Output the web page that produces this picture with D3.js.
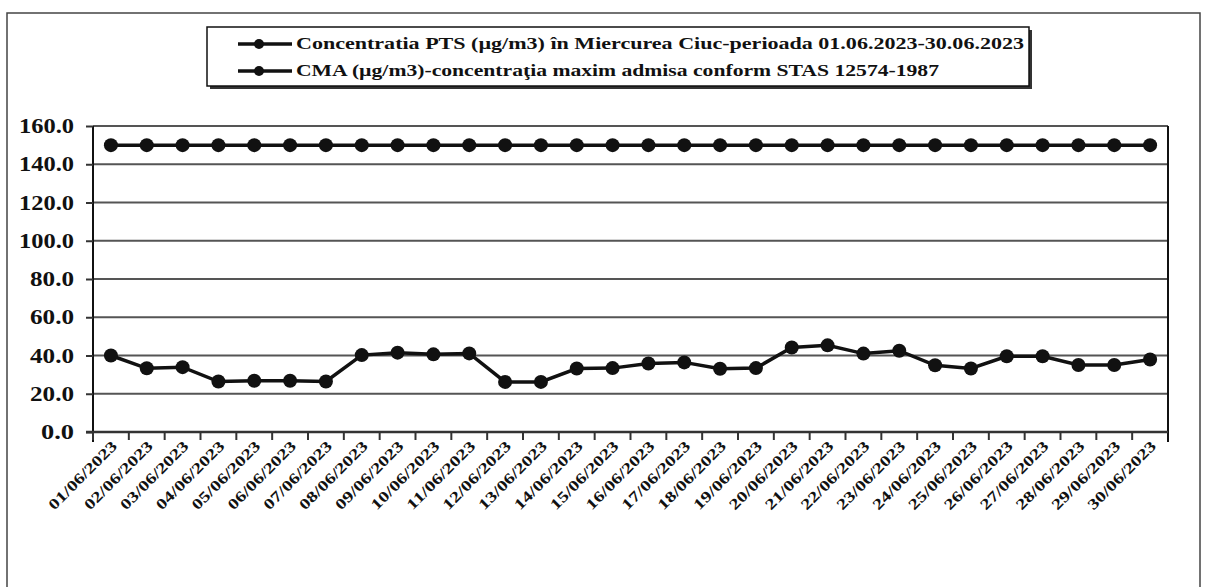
<!DOCTYPE html>
<html>
<head>
<meta charset="utf-8">
<script src="https://cdn.jsdelivr.net/npm/d3@7"></script>
<style>
  body { margin: 0; background: #fff; }
  svg text { font-family: "Liberation Serif", "DejaVu Serif", serif; font-weight: bold; fill: #111; }
</style>
</head>
<body>
<svg id="chart" width="1205" height="587"></svg>
<script>
// data
var days = ["01/06/2023","02/06/2023","03/06/2023","04/06/2023","05/06/2023","06/06/2023",
  "07/06/2023","08/06/2023","09/06/2023","10/06/2023","11/06/2023","12/06/2023","13/06/2023",
  "14/06/2023","15/06/2023","16/06/2023","17/06/2023","18/06/2023","19/06/2023","20/06/2023",
  "21/06/2023","22/06/2023","23/06/2023","24/06/2023","25/06/2023","26/06/2023","27/06/2023",
  "28/06/2023","29/06/2023","30/06/2023"];
var pts = [40.0, 33.3, 33.9, 26.4, 26.8, 26.8, 26.4, 40.2, 41.5, 40.6, 41.1, 26.2, 26.2,
  33.2, 33.4, 35.8, 36.4, 33.1, 33.4, 44.2, 45.3, 41.0, 42.5, 34.9, 33.2, 39.6, 39.6,
  35.0, 35.0, 37.9];
var cma = [150,150,150,150,150,150,150,150,150,150,150,150,150,150,150,150,150,150,150,150,
  150,150,150,150,150,150,150,150,150,150];
var yTicks = [0, 20, 40, 60, 80, 100, 120, 140, 160];
var legendLabels = [
  "Concentratia PTS (µg/m3) în Miercurea Ciuc-perioada 01.06.2023-30.06.2023",
  "CMA (µg/m3)-concentraţia maxim admisa conform STAS 12574-1987"
];

(function () {
var svg = d3.select("#chart");
var left = 93, right = 1168, plotTop = 126, bottom = 432;

// outer frame
svg.append("rect")
    .attr("x", 7).attr("y", 13).attr("width", 1193).attr("height", 600)
    .attr("fill", "none").attr("stroke", "#444").attr("stroke-width", 1.5);

var x = d3.scaleBand().domain(days).range([left, right]);
var y = d3.scaleLinear().domain([0, 160]).range([bottom, plotTop]);

// grid lines
svg.append("g").selectAll("line")
    .data(yTicks.filter(function(d) { return d > 0; }))
    .enter().append("line")
      .attr("x1", left).attr("x2", right)
      .attr("y1", function(d) { return y(d); })
      .attr("y2", function(d) { return y(d); })
      .attr("stroke", "#555").attr("stroke-width", 2);

// right border of plot
svg.append("line")
    .attr("x1", right).attr("x2", right).attr("y1", plotTop).attr("y2", bottom + 10)
    .attr("stroke", "#111").attr("stroke-width", 2);

// y axis
var fmt = d3.format(".1f");
var yAxis = svg.append("g")
    .attr("transform", "translate(" + left + ",0)")
    .call(d3.axisLeft(y).tickValues(yTicks).tickSize(7).tickPadding(12).tickFormat(fmt));
yAxis.select(".domain").attr("stroke", "#111").attr("stroke-width", 2)
    .attr("d", "M0," + plotTop + "V" + (bottom + 10));
yAxis.selectAll(".tick line").attr("stroke", "#333").attr("stroke-width", 2);
yAxis.selectAll("text")
    .style("font-size", "21px").attr("fill", "#111")
    .attr("textLength", function(d) { return fmt(d).length * 11; })
    .attr("lengthAdjust", "spacingAndGlyphs");

// x axis: ticks sit on category borders
var xAxis = svg.append("g").attr("transform", "translate(0," + bottom + ")");
xAxis.append("line")
    .attr("x1", left - 7).attr("x2", right).attr("y1", 0).attr("y2", 0)
    .attr("stroke", "#333").attr("stroke-width", 2.5);
xAxis.selectAll(".tk")
    .data(days)
    .enter().append("line")
      .attr("class", "tk")
      .attr("x1", function(d) { return x(d); })
      .attr("x2", function(d) { return x(d); })
      .attr("y1", 0).attr("y2", 8)
      .attr("stroke", "#333").attr("stroke-width", 2);
xAxis.selectAll(".lbl")
    .data(days)
    .enter().append("text")
      .attr("class", "lbl")
      .attr("text-anchor", "end")
      .attr("transform", function(d) {
        return "translate(" + (x(d) + x.bandwidth() / 2 + 7) + ",15) rotate(-45)";
      })
      .attr("textLength", 90)
      .attr("lengthAdjust", "spacingAndGlyphs")
      .style("font-size", "15px")
      .text(function(d) { return d; });

// series
var line = d3.line()
    .x(function(d, i) { return x(days[i]) + x.bandwidth() / 2; })
    .y(function(d) { return y(d); });

[cma, pts].forEach(function(series) {
  svg.append("path")
      .datum(series)
      .attr("d", line)
      .attr("fill", "none").attr("stroke", "#111").attr("stroke-width", 3.5);
  svg.append("g").selectAll("circle")
      .data(series)
      .enter().append("circle")
        .attr("cx", function(d, i) { return x(days[i]) + x.bandwidth() / 2; })
        .attr("cy", function(d) { return y(d); })
        .attr("r", 7)
        .attr("fill", "#111");
});

// legend
var lg = svg.append("g");
lg.append("rect")
    .attr("x", 210).attr("y", 30).attr("width", 822).attr("height", 59)
    .attr("fill", "#333");
lg.append("rect")
    .attr("x", 207).attr("y", 27).attr("width", 822).attr("height", 59)
    .attr("fill", "#fff").attr("stroke", "#111").attr("stroke-width", 1.5);
legendLabels.forEach(function(t, i) {
  var ly = 44 + i * 27;
  lg.append("line")
      .attr("x1", 238).attr("x2", 292).attr("y1", ly).attr("y2", ly)
      .attr("stroke", "#111").attr("stroke-width", 3.5);
  lg.append("circle").attr("cx", 259).attr("cy", ly).attr("r", 5).attr("fill", "#111");
  lg.append("text")
      .attr("x", 296).attr("y", ly + 5)
      .attr("textLength", i === 0 ? 728 : 643)
      .attr("lengthAdjust", "spacingAndGlyphs")
      .style("font-size", "16px")
      .text(t);
});
})();
</script>
</body>
</html>
